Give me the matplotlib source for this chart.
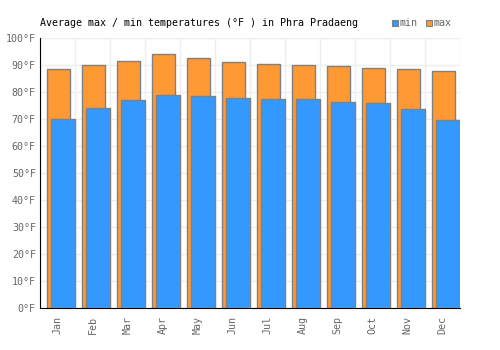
import matplotlib.pyplot as plt
from matplotlib.ticker import FuncFormatter, MultipleLocator
from matplotlib.patches import Rectangle

months = ["Jan", "Feb", "Mar", "Apr", "May", "Jun", "Jul", "Aug", "Sep", "Oct", "Nov", "Dec"]
temp_max = [88.6, 89.9, 91.7, 94.0, 92.5, 91.0, 90.6, 89.9, 89.5, 89.1, 88.4, 88.0]
temp_min = [69.9, 74.0, 76.9, 79.1, 78.4, 78.0, 77.3, 77.3, 76.5, 75.8, 73.6, 69.5]

BLUE = "#3399ff"
ORANGE = "#ff9933"
EDGE = "#808080"
FONT = "DejaVu Sans Mono"

plt.rcParams["font.family"] = FONT

fig = plt.figure(figsize=(5, 3.5), dpi=100)
ax = fig.add_axes([0.08, 0.12, 0.84, 0.771])

x = list(range(len(months)))
ax.bar([i + 0.02 for i in x], temp_max, width=0.66, color=ORANGE,
       edgecolor=EDGE, linewidth=1, zorder=2)
ax.bar([i + 0.16 for i in x], temp_min, width=0.68, color=BLUE,
       edgecolor=EDGE, linewidth=1, zorder=3)

ax.set_xlim(-0.5, 11.5)
ax.set_ylim(0, 100)
ax.yaxis.set_major_locator(MultipleLocator(10))
ax.yaxis.set_major_formatter(FuncFormatter(lambda v, p: f"{v:.0f}°F"))
ax.set_xticks(x)
ax.set_xticklabels(months, rotation=90)
ax.set_xticks([i - 0.5 for i in range(13)], minor=True)
ax.tick_params(axis="both", which="both", length=0, labelsize=7.2,
               labelcolor="#666666")
ax.tick_params(axis="x", pad=6)
ax.tick_params(axis="y", pad=3)

ax.grid(True, axis="y", which="major", color="#eeeeee", linewidth=1, zorder=0)
ax.grid(True, axis="x", which="minor", color="#eeeeee", linewidth=1, zorder=0)
ax.set_axisbelow(True)
for side in ["top", "right"]:
    ax.spines[side].set_visible(False)
ax.spines["left"].set_color("black")
ax.spines["bottom"].set_color("black")

fig.text(0.08, 0.935, "Average max / min temperatures (°F ) in Phra Pradaeng",
         fontsize=7.2, color="black", va="center", ha="left")

# legend
for xs, col, lab in [(0.784, BLUE, "min"), (0.851, ORANGE, "max")]:
    fig.patches.append(Rectangle((xs, 0.925), 0.012, 0.019, transform=fig.transFigure,
                                 facecolor=col, edgecolor=EDGE, linewidth=0.8))
    fig.text(xs + 0.016, 0.935, lab, fontsize=7.2, color="#666666", va="center", ha="left")

fig.savefig("out.png", dpi=100)
